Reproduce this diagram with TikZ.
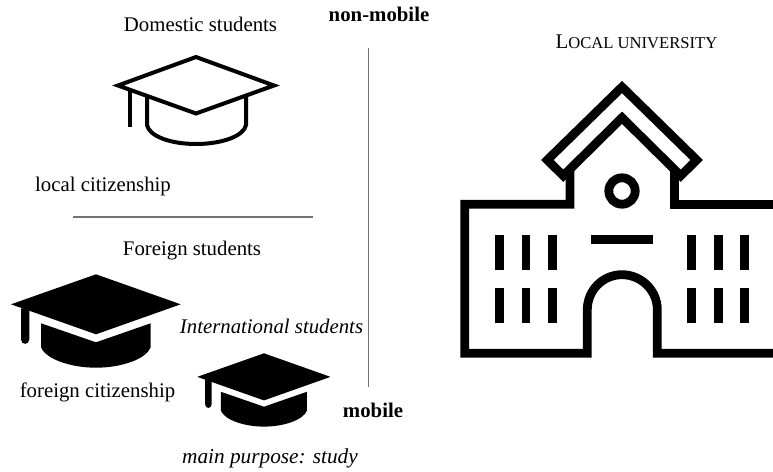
\documentclass[tikz,border=0pt]{standalone}
\usepackage{fontspec}
\setmainfont{Liberation Serif}
\usetikzlibrary{positioning}
\tikzset{
  label text/.style={font=\fontsize{20.8}{24}\selectfont,anchor=base,inner sep=0pt},
  side text/.style={font=\fontsize{20.8}{24}\selectfont\itshape,anchor=base,inner sep=0pt},
  mobility text/.style={font=\fontsize{20.8}{24}\selectfont\bfseries,anchor=base,inner sep=0pt},
  divider/.style={draw=black!55,line width=1.2pt},
  wall/.style={draw=black,line width=8.8pt,miter limit=10},
  window/.style={draw=black,line width=8.8pt},
  cap outline/.style={draw=black,line width=4pt,line join=miter,miter limit=10},
  cap filled/.pic={
    \fill[black] (0,0) -- (84.7,30) -- (0,60) -- (-85,30) -- cycle;
    \fill[black] (-75,34) -- (-66.7,34) -- (-66.7,65)
      .. controls (-66.7,71) and (-75,71) .. (-75,65) -- cycle;
    \fill[black] (-55,49) -- (0,68) -- (54.7,49) -- (54.7,73)
      .. controls (50,85) and (25,93.4) .. (0,93.4)
      .. controls (-25,93.4) and (-50,85) .. (-55,73) -- cycle;
  }
}
\begin{document}
\begin{tikzpicture}[x=1pt,y=-1pt]
\useasboundingbox (0,0) rectangle (773,471);

\node[label text] (domestic) at (200.5,31.7) {Domestic students};
\node[mobility text] (nonmobile) at (379,21.7) {non-mobile};
\node[label text] (local) at (103,191) {local citizenship};
\node[label text] (foreign) at (192,255) {Foreign students};
\node[side text] (international) at (271.5,333.7) {International students};
\node[label text] (foreigncit) at (97.5,397.3) {foreign citizenship};
\node[mobility text] (mobile) at (373,417.3) {mobile};
\node[side text,font=\fontsize{21.3}{24}\selectfont\itshape] (purpose) at (270,463.3) {main purpose: study};
\node[label text] (university) at (636.5,48.7)
  {\fontsize{20.8}{24}\selectfont L\fontsize{16.6}{24}\selectfont OCAL UNIVERSITY};

\coordinate (vtop) at (368.5,48);
\coordinate (vbottom) at (368.5,386.5);
\coordinate (hleft) at (73,217);
\coordinate (hright) at (313,217);
\draw[divider] (vtop) -- (vbottom);
\draw[divider] (hleft) -- (hright);

\draw[cap outline] (196,57) -- (274,85.5) -- (196,113.5) -- (118,85.5) -- cycle;
\draw[cap outline] (130,91) -- (130,127);
\draw[cap outline] (147,97) -- (147,125)
  .. controls (149,136) and (170,144) .. (196,144)
  .. controls (222,144) and (244,136) .. (246,125) -- (246,97);

\pic at (96,274.3) {cap filled};
\pic[scale=0.785] at (264,353.3) {cap filled};

\draw[wall] (622,87) -- (696.7,160) -- (680.7,175.7) -- (622,117.7)
  -- (563.3,175.7) -- (547.3,160) -- cycle;
\draw[wall] (570,170) -- (570,204.3) -- (464.7,204.3) -- (464.7,353.3)
  -- (587.3,353.3) -- (587.3,309.7)
  .. controls (587.3,290.4) and (602.7,274.7) .. (622,274.7)
  .. controls (641.3,274.7) and (657.3,290.4) .. (657.3,309.7)
  -- (657.3,353.3) -- (773,353.3);
\draw[wall] (674.3,170) -- (674.3,204.3) -- (773,204.3);
\draw[wall] (622,191) circle[radius=13.2pt];
\draw[window] (591.3,239.7) -- (652.7,239.7);
\foreach \wx in {499.7,526,552.2,691.8,718.2,744.5}{
  \draw[window] (\wx,235.3) -- (\wx,270.3);
  \draw[window] (\wx,288) -- (\wx,323);
}
\end{tikzpicture}
\end{document}
